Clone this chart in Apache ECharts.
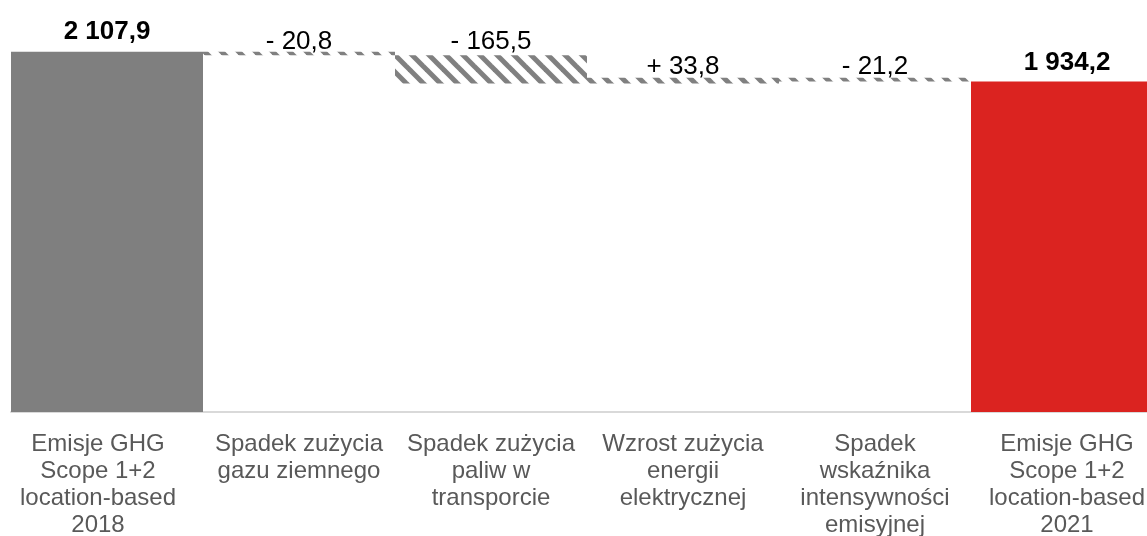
<!DOCTYPE html>
<html>
<head>
<meta charset="utf-8">
<script src="https://cdn.jsdelivr.net/npm/echarts@6/dist/echarts.min.js"></script>
<style>
html,body{margin:0;padding:0;background:#fff;}
#chart{width:1147px;height:536px;}
</style>
</head>
<body>
<div id="chart"></div>
<script>
const categories = [
  'Emisje GHG\nScope 1+2\nlocation-based\n2018',
  'Spadek zużycia\ngazu ziemnego',
  'Spadek zużycia\npaliw w\ntransporcie',
  'Wzrost zużycia\nenergii\nelektrycznej',
  'Spadek\nwskaźnika\nintensywności\nemisyjnej',
  'Emisje GHG\nScope 1+2\nlocation-based\n2021'
];
const startTotal = 2107.9;
const changes = [-20.8, -165.5, 33.8, -21.2];
const endTotal = 1934.2;
const valueLabels = ['2 107,9', '- 20,8', '- 165,5', '+ 33,8', '- 21,2', '1 934,2'];

const FONT = '"Liberation Sans", Arial, sans-serif';

function hatchPattern() {
  const s = 17;
  const c = document.createElement('canvas');
  c.width = s; c.height = s;
  const ctx = c.getContext('2d');
  ctx.strokeStyle = '#808080';
  ctx.lineWidth = 5;
  [-s, 0, s].forEach(k => {
    ctx.beginPath();
    ctx.moveTo(k - 3, -3);
    ctx.lineTo(k + s + 3, s + 3);
    ctx.stroke();
  });
  return { image: c, repeat: 'repeat' };
}
const hatch = hatchPattern();

const deltaDistances = [-3, 0, -2, -2];

// build waterfall
const baseData = [0];
const visData = [];
let running = startTotal;
visData.push({
  value: startTotal,
  itemStyle: { color: '#7f7f7f' },
  label: { fontWeight: 'bold', fontSize: 26, distance: 7 }
});
changes.forEach((ch, i) => {
  const after = running + ch;
  baseData.push(Math.min(running, after));
  visData.push({
    value: Math.abs(ch),
    itemStyle: { color: hatch },
    label: { fontSize: 26, distance: deltaDistances[i] }
  });
  running = after;
});
baseData.push(0);
visData.push({
  value: endTotal,
  itemStyle: { color: '#db2320' },
  label: { fontWeight: 'bold', fontSize: 26, distance: 6 }
});

const xData = categories.map((c, i) => i === 0
  ? { value: c, textStyle: { padding: [0, 18, 0, 0] } }
  : c);

const chart = echarts.init(document.getElementById('chart'), null, { renderer: 'canvas' });
chart.setOption({
  animation: false,
  backgroundColor: '#ffffff',
  grid: { left: 11, width: 1152, top: 36, bottom: 124, containLabel: false, outerBoundsMode: 'none' },
  xAxis: {
    type: 'category',
    data: xData,
    axisLine: { show: true, lineStyle: { color: '#d9d9d9', width: 2 } },
    axisTick: { show: false },
    axisLabel: {
      interval: 0,
      fontSize: 24,
      lineHeight: 27,
      color: '#595959',
      fontFamily: FONT,
      margin: 19
    }
  },
  yAxis: {
    type: 'value',
    min: 0,
    max: 2200,
    show: false,
    splitLine: { show: false }
  },
  series: [
    {
      type: 'bar',
      stack: 'w',
      data: baseData,
      itemStyle: { color: 'transparent' },
      barCategoryGap: '0%',
      silent: true
    },
    {
      type: 'bar',
      stack: 'w',
      data: visData,
      barCategoryGap: '0%',
      label: {
        show: true,
        position: 'top',
        color: '#000',
        fontFamily: FONT,
        formatter: p => valueLabels[p.dataIndex]
      }
    }
  ]
});
</script>
</body>
</html>
